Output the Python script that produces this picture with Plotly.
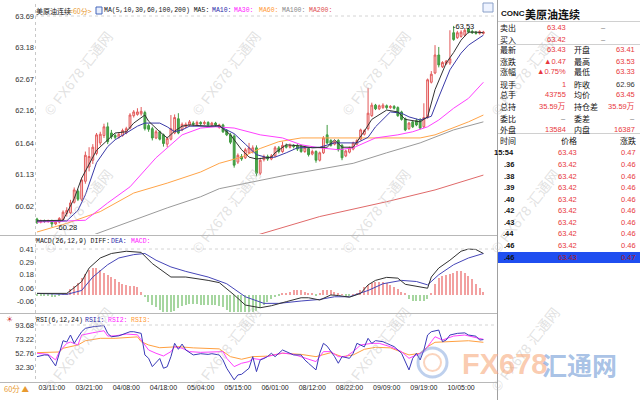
import plotly.graph_objects as go

# ---------------- data ----------------
N = 121
bar_idx = list(range(N))
x_tick_pos = [4, 14, 24, 34, 44, 54, 64, 74, 84, 94, 104, 114]
x_tick_text = ["03/11:00", "03/21:00", "04/08:00", "04/18:00", "05/04:00", "05/15:00",
               "06/01:00", "08/12:00", "08/22:00", "09/09:00", "09/19:00", "10/05:00"]

opens = [60.41, 60.36, 60.38, 60.37, 60.38, 60.33, 60.36, 60.40, 60.50, 60.51,
         60.68, 60.86, 60.73, 61.02, 61.25, 61.36, 61.47, 61.64, 61.76, 61.90,
         61.80, 61.76, 61.73, 61.76, 61.80, 61.88, 62.08, 62.10, 62.11, 62.13,
         61.92, 61.87, 61.72, 61.82, 61.77, 61.62, 61.70, 61.80, 62.03, 61.85,
         61.90, 61.93, 61.96, 61.94, 61.97, 61.95, 61.97, 61.93, 61.96, 61.89,
         61.93, 61.84, 61.77, 61.75, 61.33, 61.42, 61.40, 61.48, 61.50, 61.56,
         61.15, 61.37, 61.42, 61.38, 61.43, 61.56, 61.50, 61.60, 61.57, 61.60,
         61.60, 61.59, 61.50, 61.55, 61.46, 61.50, 61.36, 61.48, 61.77, 61.68,
         61.62, 61.68, 61.60, 61.43, 61.49, 61.54, 61.62, 61.70, 61.78, 61.87,
         62.08, 62.25, 62.19, 62.21, 62.24, 62.21, 62.23, 62.21, 62.14, 62.03,
         61.87, 61.98, 62.00, 62.01, 61.90, 62.05, 62.62, 62.77, 63.06, 62.87,
         62.92, 62.93, 63.42, 63.34, 63.36, 63.38, 63.48, 63.44, 63.43, 63.41,
         63.41]
highs = [60.43, 60.40, 60.40, 60.40, 60.40, 60.38, 60.44, 60.55, 60.60, 60.72,
         60.92, 60.89, 61.08, 61.50, 61.57, 61.62, 61.80, 61.82, 61.95, 61.97,
         61.85, 61.79, 61.81, 61.87, 61.90, 62.12, 62.17, 62.20, 62.22, 62.16,
         61.95, 61.90, 61.85, 61.84, 61.79, 61.74, 62.09, 62.10, 62.12, 61.97,
         61.97, 62.01, 61.99, 62.00, 61.99, 62.00, 61.99, 61.98, 61.98, 61.95,
         61.95, 61.86, 61.80, 61.78, 61.47, 61.46, 61.56, 61.64, 61.60, 61.60,
         61.40, 61.45, 61.45, 61.46, 61.59, 61.59, 61.66, 61.63, 61.63, 61.62,
         61.62, 61.61, 61.59, 61.57, 61.53, 61.52, 61.50, 61.75, 61.93, 61.70,
         61.68, 61.70, 61.62, 61.53, 61.58, 61.66, 61.70, 61.87, 61.86, 62.53,
         62.29, 62.27, 62.26, 62.28, 62.26, 62.25, 62.25, 62.23, 62.16, 62.05,
         61.98, 62.00, 62.03, 62.04, 62.28, 62.68, 62.80, 63.22, 63.19, 62.96,
         62.98, 63.46, 63.53, 63.45, 63.46, 63.49, 63.50, 63.47, 63.45, 63.46,
         63.45]
lows = [60.33, 60.34, 60.35, 60.35, 60.28, 60.31, 60.34, 60.38, 60.45, 60.49,
        60.66, 60.70, 60.70, 60.98, 61.18, 61.30, 61.44, 61.60, 61.72, 61.62,
        61.70, 61.70, 61.71, 61.74, 61.78, 61.86, 62.05, 62.08, 62.08, 61.84,
        61.82, 61.68, 61.70, 61.68, 61.58, 61.57, 61.68, 61.78, 61.78, 61.83,
        61.88, 61.90, 61.91, 61.92, 61.92, 61.93, 61.91, 61.91, 61.90, 61.87,
        61.80, 61.75, 61.62, 61.24, 61.30, 61.35, 61.38, 61.46, 61.47, 61.10,
        61.12, 61.34, 61.35, 61.36, 61.41, 61.47, 61.48, 61.55, 61.55, 61.55,
        61.51, 61.48, 61.48, 61.42, 61.44, 61.32, 61.34, 61.46, 61.62, 61.58,
        61.60, 61.50, 61.36, 61.41, 61.47, 61.52, 61.60, 61.68, 61.76, 61.84,
        62.06, 62.17, 62.17, 62.19, 62.18, 62.19, 62.18, 62.06, 62.00, 61.83,
        61.85, 61.88, 61.91, 61.86, 61.88, 62.03, 62.60, 62.75, 62.86, 62.85,
        62.90, 62.90, 63.29, 63.32, 63.34, 63.36, 63.41, 63.40, 63.39, 63.39,
        63.39]
closes = [60.35, 60.38, 60.37, 60.38, 60.33, 60.36, 60.42, 60.52, 60.55, 60.67,
          60.88, 60.73, 61.04, 61.44, 61.42, 61.57, 61.77, 61.78, 61.90, 61.66,
          61.74, 61.73, 61.78, 61.84, 61.87, 62.09, 62.14, 62.14, 62.15, 61.87,
          61.86, 61.72, 61.82, 61.70, 61.63, 61.71, 61.87, 62.05, 61.80, 61.94,
          61.94, 61.98, 61.94, 61.97, 61.95, 61.97, 61.93, 61.96, 61.93, 61.93,
          61.82, 61.77, 61.65, 61.28, 61.44, 61.38, 61.53, 61.56, 61.56, 61.15,
          61.36, 61.42, 61.38, 61.43, 61.56, 61.50, 61.60, 61.57, 61.60, 61.58,
          61.54, 61.50, 61.57, 61.45, 61.50, 61.36, 61.48, 61.72, 61.64, 61.60,
          61.66, 61.53, 61.40, 61.51, 61.56, 61.64, 61.68, 61.85, 61.84, 62.12,
          62.25, 62.19, 62.24, 62.25, 62.21, 62.23, 62.20, 62.08, 62.02, 61.85,
          61.96, 61.90, 61.93, 61.88, 62.05, 62.66, 62.75, 63.06, 62.90, 62.94,
          62.96, 63.00, 63.31, 63.42, 63.43, 63.46, 63.43, 63.42, 63.41, 63.44,
          63.43]

ma5_x = [0, 7, 10, 12, 16, 19, 21, 24, 26, 29, 30, 33, 35, 37, 39, 41, 46, 49, 52, 55, 57, 59,
         63, 64, 67, 71, 74, 78, 80, 82, 85, 88, 90, 94, 97, 99, 103, 105, 107, 110, 112, 114,
         116, 118, 120]
ma5_v = [60.38, 60.39, 60.74, 61.07, 61.52, 61.69, 61.80, 61.82, 61.96, 62.09, 61.99, 61.82,
         61.72, 61.83, 61.91, 61.93, 61.91, 61.92, 61.77, 61.53, 61.41, 61.38, 61.41, 61.48,
         61.61, 61.59, 61.56, 61.57, 61.69, 61.57, 61.57, 61.83, 62.02, 62.17, 62.14, 62.02,
         61.98, 62.06, 62.50, 62.93, 63.10, 63.30, 63.43, 63.43, 63.42]
ma10_x = [0, 8, 11, 13, 16, 19, 21, 24, 27, 29, 33, 35, 37, 39, 41, 49, 53, 56, 59, 62, 64, 67,
          70, 76, 80, 86, 89, 91, 95, 98, 100, 103, 106, 108, 111, 114, 116, 120]
ma10_v = [60.38, 60.38, 60.55, 60.80, 61.32, 61.58, 61.69, 61.80, 61.91, 61.96, 61.96, 61.90,
          61.82, 61.85, 61.91, 61.91, 61.79, 61.62, 61.45, 61.40, 61.41, 61.48, 61.56, 61.57,
          61.64, 61.64, 61.73, 61.90, 62.14, 62.12, 62.06, 62.01, 62.07, 62.38, 62.82, 63.09,
          63.22, 63.38]
ma30_x = [0, 8, 13, 19, 25, 32, 35, 39, 44, 48, 53, 57, 60, 66, 71, 76, 81, 85, 88, 91, 97,
          101, 105, 108, 112, 116, 120]
ma30_v = [60.36, 60.38, 60.39, 60.67, 60.93, 61.40, 61.56, 61.77, 61.88, 61.90, 61.88, 61.82,
          61.77, 61.72, 61.61, 61.56, 61.53, 61.56, 61.64, 61.72, 61.77, 61.82, 61.90, 62.01,
          62.20, 62.36, 62.62]
ma60_x = [0, 8, 17, 26, 35, 44, 49, 55, 60, 65, 71, 85, 103, 107, 112, 116, 120]
ma60_v = [60.20, 60.34, 60.53, 60.83, 60.99, 61.17, 61.31, 61.41, 61.55, 61.66, 61.72, 61.72,
          61.72, 61.77, 61.88, 61.98, 62.09]
ma100_x = [0, 26, 35, 44, 49, 67, 85, 94, 103, 112, 120]
ma100_v = [59.82, 60.39, 60.59, 60.77, 60.90, 61.12, 61.31, 61.48, 61.64, 61.85, 61.98]
ma200_x = [55, 58, 76, 94, 107, 120]
ma200_v = [60.08, 60.13, 60.45, 60.69, 60.88, 61.12]

diff_x = [0, 8, 10, 12, 14, 17, 20, 24, 28, 31, 36, 40, 46, 49, 53, 56, 60, 63, 67, 71, 73, 76,
          79, 81, 84, 87, 89, 91, 94, 97, 99, 102, 105, 106, 108, 111, 114, 116, 118, 120]
diff_v = [0.014, 0.014, 0.065, 0.12, 0.24, 0.33, 0.37, 0.39, 0.38, 0.28, 0.16, 0.16, 0.13,
          0.11, 0.0, -0.09, -0.114, -0.096, -0.06, -0.025, -0.025, -0.045, 0.0, -0.005, -0.02,
          0.014, 0.09, 0.13, 0.157, 0.15, 0.095, 0.08, 0.06, 0.16, 0.24, 0.31, 0.39, 0.41,
          0.405, 0.37]
dea_x = [0, 8, 12, 15, 19, 22, 26, 29, 32, 36, 40, 46, 51, 56, 61, 65, 71, 76, 80, 84, 89, 93,
         98, 102, 105, 108, 112, 116, 120]
dea_v = [0.014, 0.005, 0.04, 0.16, 0.27, 0.33, 0.36, 0.37, 0.31, 0.25, 0.21, 0.16, 0.10,
         -0.016, -0.075, -0.075, -0.054, -0.04, -0.016, -0.016, 0.04, 0.10, 0.13, 0.12, 0.09,
         0.18, 0.27, 0.33, 0.37]
macd_hist = [-0.01, -0.01, -0.01, -0.01, -0.015, -0.02, -0.01, 0.005, 0.01, 0.05,
             0.08, 0.11, 0.15, 0.19, 0.22, 0.24, 0.24, 0.22, 0.20, 0.18,
             0.16, 0.14, 0.12, 0.10, 0.09, 0.08, 0.08, 0.07, 0.03, -0.02,
             -0.06, -0.09, -0.11, -0.13, -0.15, -0.16, -0.15, -0.14, -0.12, -0.10,
             -0.09, -0.08, -0.08, -0.085, -0.09, -0.09, -0.09, -0.09, -0.09, -0.10,
             -0.11, -0.13, -0.15, -0.17, -0.19, -0.19, -0.19, -0.18, -0.17, -0.14,
             -0.12, -0.09, -0.06, -0.04, -0.02, -0.01, 0.01, 0.02, 0.03, 0.04,
             0.04, 0.04, 0.03, 0.02, 0.01, -0.005, 0.01, 0.04, 0.04, 0.04,
             0.03, 0.02, 0.005, -0.01, -0.01, 0.005, 0.02, 0.04, 0.07, 0.09,
             0.11, 0.12, 0.12, 0.12, 0.11, 0.09, 0.07, 0.05, 0.03, 0.01,
             -0.04, -0.05, -0.055, -0.055, -0.05, -0.04, 0.02, 0.10, 0.15, 0.17,
             0.18, 0.19, 0.20, 0.21, 0.21, 0.20, 0.17, 0.14, 0.10, 0.06,
             0.03]

rsi1_x = [0, 2, 3, 5, 6, 7, 8, 9, 10, 12, 13, 15, 18, 19, 20, 22, 25, 26, 28, 29, 30, 31, 33,
          34, 35, 36, 37, 38, 39, 40, 42, 44, 46, 47, 49, 50, 51, 53, 54, 55, 57, 58, 59, 60,
          61, 62, 63, 64, 66, 67, 69, 71, 72, 73, 75, 76, 77, 78, 80, 81, 82, 84, 85, 86, 88,
          89, 90, 91, 93, 95, 96, 98, 99, 100, 101, 102, 103, 104, 105, 106, 108, 109, 110,
          111, 113, 115, 116, 118, 119, 120]
rsi1_v = [47.7, 50.2, 50.0, 34.2, 52.6, 70.9, 69.0, 79.2, 67.1, 84.0, 88.9, 91.2, 93.0, 81.6,
          76.7, 78.0, 84.0, 84.0, 81.6, 50.2, 45.3, 33.2, 45.0, 30.8, 33.0, 47.7, 67.1, 58.4,
          66.0, 57.4, 50.2, 52.0, 51.0, 52.0, 50.2, 42.9, 30.8, 13.9, 21.1, 22.0, 30.8, 47.7,
          25.9, 42.9, 45.0, 48.0, 52.6, 47.7, 57.4, 55.0, 50.2, 50.2, 42.9, 38.0, 28.4, 52.6,
          67.1, 63.0, 47.7, 38.1, 47.7, 45.3, 52.6, 67.1, 62.0, 74.4, 67.0, 71.0, 69.5, 64.7,
          62.3, 52.6, 40.5, 28.4, 45.3, 52.6, 42.9, 57.4, 79.2, 84.0, 86.4, 69.5, 71.9, 79.2,
          81.6, 82.3, 79.2, 77.5, 71.9, 72.5]
rsi2_x = [0, 3, 5, 6, 8, 9, 11, 12, 15, 18, 19, 21, 24, 27, 29, 30, 32, 34, 36, 37, 39, 41,
          44, 47, 50, 51, 53, 55, 57, 58, 60, 62, 64, 66, 69, 72, 75, 77, 79, 81, 83, 85, 87,
          90, 92, 95, 98, 100, 102, 104, 106, 107, 109, 112, 115, 120]
rsi2_v = [52.6, 51.0, 42.9, 55.0, 67.1, 69.0, 64.7, 79.2, 82.5, 85.4, 77.7, 78.0, 80.6, 79.5,
          64.7, 57.4, 52.6, 48.7, 55.0, 62.2, 60.0, 55.0, 54.0, 54.5, 55.0, 45.3, 33.2, 38.1,
          40.5, 45.0, 43.5, 48.0, 50.2, 53.0, 51.0, 46.2, 40.5, 55.0, 55.0, 47.7, 47.7, 55.0,
          64.7, 67.1, 67.1, 62.2, 55.0, 45.3, 50.0, 55.0, 69.5, 76.7, 71.9, 77.7, 79.2, 72.9]
rsi3_x = [0, 4, 6, 7, 9, 11, 13, 17, 21, 24, 27, 28, 30, 33, 36, 38, 42, 47, 49, 52, 55, 58,
          62, 66, 71, 75, 79, 82, 85, 88, 91, 95, 98, 100, 103, 105, 107, 110, 113, 116, 120]
rsi3_v = [53.5, 53.5, 54.5, 59.9, 62.2, 64.7, 70.9, 74.4, 74.4, 75.8, 76.5, 69.5, 64.7, 60.7,
          62.0, 62.2, 60.5, 59.9, 59.0, 47.7, 43.9, 47.7, 48.5, 52.6, 51.0, 47.7, 53.5, 47.7,
          50.2, 58.4, 61.3, 60.5, 55.0, 50.2, 52.6, 62.2, 68.6, 69.5, 70.9, 70.9, 68.6]

price_ticks = [63.69, 63.18, 62.67, 62.16, 61.64, 61.13, 60.62]
macd_ticks = [0.41, 0.29, 0.18, 0.06, -0.06]
rsi_ticks = [93.68, 73.22, 52.76, 32.30]

quote_labels1 = ["卖出", "买入", "最新", "涨跌", "涨幅", "现手", "总手", "总持", "委比", "外盘"]
quote_values1 = ["63.43", "63.42", "63.43", "▲0.47", "▲0.75%", "1", "43755", "35.59万", "–", "13584"]
quote_labels2 = ["", "", "开盘", "最高", "最低", "昨收", "均价", "持仓差", "委差", "内盘"]
quote_values2 = ["–", "–", "63.41", "63.53", "63.33", "62.96", "63.45", "35.59万", "–", "16387"]
tick_times = ["15:54", ".36", ".38", ".39", ".40", ".42", ".43", ".44", ".46", ".46"]
tick_prices = ["63.43", "63.42", "63.42", "63.42", "63.42", "63.42", "63.42", "63.42", "63.42", "63.43"]
tick_changes = ["0.47", "0.46", "0.46", "0.46", "0.46", "0.46", "0.46", "0.46", "0.46", "0.47"]

# ---------------- layout helpers ----------------
W, H = 640, 400
ML, MR, MT, MB = 35, 143, 0, 18
PW = W - ML - MR
PH = H - MT - MB


def px(x):
    return (x - ML) / PW


def py(y):
    return (PH - (y - MT)) / PH


RED = "#e8383d"
GRN = "#3f9b3f"
CJK = "Noto Sans CJK SC"
MONO = "Liberation Mono"
SANS = "Liberation Sans"

fig = go.Figure()

fig.add_trace(go.Candlestick(
    x=bar_idx, open=opens, high=highs, low=lows, close=closes,
    increasing=dict(line=dict(color="#e25a5a", width=1), fillcolor="#fbdada"),
    decreasing=dict(line=dict(color=GRN, width=1), fillcolor="#4ea64e"),
    whiskerwidth=0, xaxis="x", yaxis="y", showlegend=False, hoverinfo="skip"))

ma_specs = [(ma200_x, ma200_v, "#e06a6a"), (ma100_x, ma100_v, "#9a9a9a"),
            (ma60_x, ma60_v, "#ffa448"), (ma30_x, ma30_v, "#ff40ff"),
            (ma10_x, ma10_v, "#3a3aa8"), (ma5_x, ma5_v, "#333333")]
for xs, vs, col in ma_specs:
    fig.add_trace(go.Scatter(x=xs, y=vs, mode="lines", line=dict(color=col, width=1),
                             xaxis="x", yaxis="y", showlegend=False, hoverinfo="skip"))

fig.add_trace(go.Bar(x=bar_idx, y=macd_hist, width=0.35,
                     marker=dict(color=["#f2a0a0" if v >= 0 else "#a6d6a0" for v in macd_hist],
                                 line=dict(width=0)),
                     xaxis="x", yaxis="y2", showlegend=False, hoverinfo="skip"))
fig.add_trace(go.Scatter(x=dea_x, y=dea_v, mode="lines", line=dict(color="#4646b8", width=1),
                         xaxis="x", yaxis="y2", showlegend=False, hoverinfo="skip"))
fig.add_trace(go.Scatter(x=diff_x, y=diff_v, mode="lines", line=dict(color="#333333", width=1),
                         xaxis="x", yaxis="y2", showlegend=False, hoverinfo="skip"))

for xs, vs, col in [(rsi3_x, rsi3_v, "#ffa040"), (rsi2_x, rsi2_v, "#ff40ff"), (rsi1_x, rsi1_v, "#3a3ab8")]:
    fig.add_trace(go.Scatter(x=xs, y=vs, mode="lines", line=dict(color=col, width=1),
                             xaxis="x", yaxis="y3", showlegend=False, hoverinfo="skip"))

tickfont = dict(family=SANS, size=7.5, color="#333333")
fig.update_layout(
    width=W, height=H, margin=dict(l=ML, r=MR, t=MT, b=MB),
    paper_bgcolor="white", plot_bgcolor="white", bargap=0,
    xaxis=dict(range=[-0.54, 123.66], anchor="y3", tickvals=x_tick_pos, ticktext=x_tick_text,
               tickfont=dict(family=SANS, size=7, color="#222222"), showgrid=False,
               zeroline=False, showline=False, ticks="", rangeslider=dict(visible=False)),
    yaxis=dict(domain=[py(234), py(5)], range=[60.168, 63.868], tickvals=price_ticks,
               ticktext=[f"{v:.2f}" for v in price_ticks], tickfont=tickfont,
               showgrid=False, zeroline=False, ticks=""),
    yaxis2=dict(domain=[py(312), py(236)], range=[-0.152, 0.526], tickvals=macd_ticks,
                ticktext=[f"{v:.2f}" for v in macd_ticks], tickfont=tickfont,
                showgrid=False, zeroline=False, ticks=""),
    yaxis3=dict(domain=[py(382), py(314)], range=[10.8, 109.8], tickvals=rsi_ticks,
                ticktext=[f"{v:.2f}" for v in rsi_ticks], tickfont=tickfont,
                showgrid=False, zeroline=False, ticks=""),
)

shapes = []


def hline(y, x0, x1, color="#c0c0c0", dash="solid", width=1):
    shapes.append(dict(type="line", xref="paper", yref="paper", x0=px(x0), x1=px(x1),
                       y0=py(y), y1=py(y), line=dict(color=color, width=width, dash=dash)))


def vline(x, y0, y1, color="#c0c0c0", dash="solid", width=1):
    shapes.append(dict(type="line", xref="paper", yref="paper", x0=px(x), x1=px(x),
                       y0=py(y0), y1=py(y1), line=dict(color=color, width=width, dash=dash)))


def rect(x0, y0, x1, y1, fill, line="rgba(0,0,0,0)", lw=0, layer="below"):
    shapes.append(dict(type="rect", xref="paper", yref="paper", x0=px(x0), x1=px(x1),
                       y0=py(y1), y1=py(y0), fillcolor=fill, line=dict(color=line, width=lw),
                       layer=layer))


rect(498, 252, 640, 263, "#1f4ef0")
hline(235.5, 0, 497, "#b8b8b8")
hline(313.5, 0, 497, "#b8b8b8")
hline(382.5, 0, 497, "#b8b8b8")
vline(497.5, 0, 400, "#a0a0a0")
vline(35.5, 4, 382, "#c8c8c8", "dot")
hline(16, 35, 497, "#d4d4d4", "dot")
hline(249, 35, 497, "#d4d4d4", "dot")
hline(325, 35, 497, "#d4d4d4", "dot")
hline(21.5, 498, 640, "#d0d0d0")
hline(44.5, 498, 640, "#d0d0d0")
hline(133.5, 498, 640, "#d0d0d0")
rect(96, 7, 102, 14, "#e8eefc", "#4466bb", 1, "above")
rect(483, 3, 493, 12, "#eef3ff", "#8aa0c8", 1, "above")
shapes.append(dict(type="circle", xref="paper", yref="paper", x0=px(418), x1=px(447),
                   y0=py(377), y1=py(348), line=dict(color="rgba(110,150,215,0.45)", width=3)))
shapes.append(dict(type="circle", xref="paper", yref="paper", x0=px(424), x1=px(441),
                   y0=py(371), y1=py(354), line=dict(color="rgba(245,160,110,0.45)", width=2)))

ann = []


def text(x, y, s, color="#222222", size=7.5, family=SANS, anchor="left", yanchor="middle", **kw):
    ann.append(dict(x=px(x), y=py(y), xref="paper", yref="paper", text=s, showarrow=False,
                    xanchor=anchor, yanchor=yanchor, font=dict(family=family, size=size, color=color),
                    borderpad=0, **kw))


# diagonal watermarks
for wx in (78, 226, 376, 525):
    for wy in (74, 212, 350):
        text(wx, wy, "© FX678 汇通网", "rgba(190,190,190,0.45)", 14, "Liberation Sans, " + CJK,
             "center", textangle=-52)

# big logo bottom right
text(461, 364, "<b>FX678</b>", "rgba(246,160,110,0.55)", 29, SANS)
text(541, 364, "<b>汇通网</b>", "rgba(120,160,215,0.65)", 25, CJK)

# price panel header
text(35, 11, "美原油连续", "#111111", 7, CJK)
text(68, 11, "&lt;60分&gt;", "#e89a30", 7, CJK)
text(103, 11, "MA(5,10,30,60,100,200) MA5:", "#111111", 6.5, MONO)
text(211, 11, "MA10:", "#2a2aa8", 6.5, MONO)
text(233, 11, "MA30:", "#ff20ff", 6.5, MONO)
text(258, 11, "MA60:", "#ff9933", 6.5, MONO)
text(281, 11, "MA100:", "#888888", 6.5, MONO)
text(308, 11, "MA200:", "#e05050", 6.5, MONO)

# MACD / RSI headers
text(35, 241, "MACD(26,12,9) DIFF:", "#111111", 6.5, MONO)
text(110, 241, "DEA:", "#2a2aa8", 6.5, MONO)
text(130, 241, "MACD:", "#ff20ff", 6.5, MONO)
text(35, 320, "RSI(6,12,24)", "#111111", 6.5, MONO)
text(84, 320, "RSI1:", "#2a2aa8", 6.5, MONO)
text(107, 320, "RSI2:", "#ff20ff", 6.5, MONO)
text(130, 320, "RSI3:", "#ff9933", 6.5, MONO)
text(5, 319, "☀", "#d04040", 8, "DejaVu Sans")
text(3, 388, "60分 ▲", "#e89a30", 7.5, CJK)

# high / low markers (data anchored)
ann.append(dict(x=4.6, y=60.27, xref="x", yref="y", text="-60.28", showarrow=False,
                xanchor="left", yanchor="middle", font=dict(family=SANS, size=7.5, color="#111111")))
ann.append(dict(x=111.4, y=63.52, xref="x", yref="y", text="-63.53", showarrow=False,
                xanchor="left", yanchor="middle", font=dict(family=SANS, size=7.5, color="#111111")))

# quote panel
text(500, 14, "<b>CONC</b>", "#111111", 8, SANS)
text(524, 14, "<b>美原油连续</b>", "#111111", 11, CJK)
row_y = [28, 39, 50, 61, 72, 84, 95, 106, 118, 129]
for i, ry in enumerate(row_y):
    text(499, ry, quote_labels1[i], "#111111", 8, CJK)
    c1 = "#777777" if quote_values1[i] == "–" else RED
    text(567, ry, quote_values1[i], c1, 7.5, SANS + ", " + CJK, "right")
    if quote_labels2[i]:
        text(573, ry, quote_labels2[i], "#111111", 8, CJK)
        c2 = "#777777" if quote_values2[i] == "–" else ("#333333" if quote_labels2[i] == "昨收" else RED)
        text(636, ry, quote_values2[i], c2, 7.5, SANS + ", " + CJK, "right")
    else:
        text(603, ry, quote_values2[i], "#777777", 7.5, SANS, "center")

text(499, 140, "时间", "#111111", 8, CJK)
text(569, 140, "价格", "#111111", 8, CJK, "center")
text(637, 140, "涨跌", "#111111", 8, CJK, "right")
tick_y = [152, 164, 176, 187, 199, 211, 222, 234, 245, 257]
for i, ty in enumerate(tick_y):
    hi = i == len(tick_y) - 1
    text(515, ty, "<b>" + tick_times[i] + "</b>", "#111111", 7.5, SANS, "right")
    text(578, ty, tick_prices[i], "#b01818" if hi else RED, 7.5, SANS, "right")
    text(637, ty, tick_changes[i], "#b01818" if hi else RED, 7.5, SANS, "right")

fig.update_layout(shapes=shapes, annotations=ann)
fig.write_html("out.html")
